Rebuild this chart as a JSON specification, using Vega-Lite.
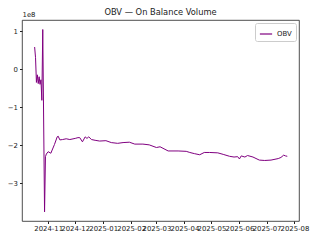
{
  "$schema": "https://vega.github.io/schema/vega-lite/v6.json",
  "width": 277,
  "height": 201,
  "autosize": {"type": "none"},
  "padding": {"left": 22, "top": 20, "right": 21, "bottom": 19},
  "background": "white",
  "title": {"text": "OBV — On Balance Volume", "font": "DejaVu Sans", "fontSize": 8.3, "fontWeight": "normal", "color": "#222", "offset": 4, "dy": 10},
  "config": {
    "view": {"stroke": "#222", "strokeWidth": 0.8},
    "font": "DejaVu Sans"
  },
  "data": {"values": [
    {"date": "2024-10-17", "obv": 58000000},
    {"date": "2024-10-18", "obv": 30000000},
    {"date": "2024-10-19", "obv": -35000000},
    {"date": "2024-10-20", "obv": -15000000},
    {"date": "2024-10-21", "obv": -38000000},
    {"date": "2024-10-22", "obv": -20000000},
    {"date": "2024-10-23", "obv": -40000000},
    {"date": "2024-10-24", "obv": -28000000},
    {"date": "2024-10-25", "obv": -82000000},
    {"date": "2024-10-26", "obv": 104000000},
    {"date": "2024-10-28", "obv": -375000000},
    {"date": "2024-10-29", "obv": -230000000},
    {"date": "2024-10-30", "obv": -223000000},
    {"date": "2024-11-01", "obv": -217000000},
    {"date": "2024-11-04", "obv": -221000000},
    {"date": "2024-11-05", "obv": -215000000},
    {"date": "2024-11-08", "obv": -198000000},
    {"date": "2024-11-11", "obv": -178000000},
    {"date": "2024-11-12", "obv": -176000000},
    {"date": "2024-11-14", "obv": -186000000},
    {"date": "2024-11-17", "obv": -185000000},
    {"date": "2024-11-21", "obv": -183000000},
    {"date": "2024-11-25", "obv": -185000000},
    {"date": "2024-12-01", "obv": -182000000},
    {"date": "2024-12-04", "obv": -180000000},
    {"date": "2024-12-06", "obv": -180000000},
    {"date": "2024-12-09", "obv": -191000000},
    {"date": "2024-12-12", "obv": -178000000},
    {"date": "2024-12-14", "obv": -182000000},
    {"date": "2024-12-16", "obv": -178000000},
    {"date": "2024-12-19", "obv": -185000000},
    {"date": "2024-12-23", "obv": -187000000},
    {"date": "2024-12-28", "obv": -189000000},
    {"date": "2025-01-04", "obv": -188000000},
    {"date": "2025-01-10", "obv": -193000000},
    {"date": "2025-01-17", "obv": -195000000},
    {"date": "2025-01-23", "obv": -193000000},
    {"date": "2025-01-30", "obv": -192000000},
    {"date": "2025-02-05", "obv": -197000000},
    {"date": "2025-02-14", "obv": -197000000},
    {"date": "2025-02-21", "obv": -199000000},
    {"date": "2025-03-01", "obv": -206000000},
    {"date": "2025-03-05", "obv": -204000000},
    {"date": "2025-03-14", "obv": -215000000},
    {"date": "2025-03-25", "obv": -215000000},
    {"date": "2025-04-03", "obv": -216000000},
    {"date": "2025-04-07", "obv": -219000000},
    {"date": "2025-04-12", "obv": -222000000},
    {"date": "2025-04-18", "obv": -225000000},
    {"date": "2025-04-23", "obv": -219000000},
    {"date": "2025-04-29", "obv": -219000000},
    {"date": "2025-05-08", "obv": -220000000},
    {"date": "2025-05-14", "obv": -224000000},
    {"date": "2025-05-21", "obv": -229000000},
    {"date": "2025-05-26", "obv": -231000000},
    {"date": "2025-05-30", "obv": -230000000},
    {"date": "2025-06-01", "obv": -236000000},
    {"date": "2025-06-03", "obv": -228000000},
    {"date": "2025-06-07", "obv": -231000000},
    {"date": "2025-06-10", "obv": -227000000},
    {"date": "2025-06-16", "obv": -231000000},
    {"date": "2025-06-23", "obv": -239000000},
    {"date": "2025-06-29", "obv": -240000000},
    {"date": "2025-07-06", "obv": -239000000},
    {"date": "2025-07-14", "obv": -235000000},
    {"date": "2025-07-17", "obv": -232000000},
    {"date": "2025-07-20", "obv": -226000000},
    {"date": "2025-07-22", "obv": -228000000},
    {"date": "2025-07-24", "obv": -229000000}
  ]},
  "mark": {"type": "line", "strokeWidth": 1, "clip": true},
  "encoding": {
    "x": {
      "field": "date", "type": "temporal", "title": null,
      "scale": {"domain": ["2024-10-03", "2025-08-06"]},
      "axis": {
        "values": [
          {"year": 2024, "month": 11, "date": 1},
          {"year": 2024, "month": 12, "date": 1},
          {"year": 2025, "month": 1, "date": 1},
          {"year": 2025, "month": 2, "date": 1},
          {"year": 2025, "month": 3, "date": 1},
          {"year": 2025, "month": 4, "date": 1},
          {"year": 2025, "month": 5, "date": 1},
          {"year": 2025, "month": 6, "date": 1},
          {"year": 2025, "month": 7, "date": 1},
          {"year": 2025, "month": 8, "date": 1}
        ],
        "format": "%Y-%m", "grid": false, "domain": false,
        "labelOverlap": false, "labelBound": false, "labelFlush": false,
        "labelFontSize": 6.9, "labelColor": "#222", "labelPadding": 2,
        "tickSize": 2.5, "tickColor": "#222"
      }
    },
    "y": {
      "field": "obv", "type": "quantitative",
      "scale": {"domain": [-399000000, 129000000], "nice": false, "zero": false},
      "axis": {
        "values": [-300000000, -200000000, -100000000, 0, 100000000],
        "labelExpr": "format(datum.value / 1e8, 'd')",
        "grid": false, "domain": false,
        "labelFontSize": 6.9, "labelColor": "#222", "labelPadding": 2,
        "tickSize": 2.5, "tickColor": "#222",
        "title": "1e8", "titleAngle": 0, "titleAlign": "left", "titleBaseline": "bottom",
        "titleX": 0, "titleY": -3, "titleFontSize": 6.9, "titleFontWeight": "normal", "titleColor": "#222"
      }
    },
    "color": {
      "datum": "OBV", "type": "nominal",
      "scale": {"range": ["#800080"]},
      "legend": {
        "title": null, "orient": "top-right", "offset": 3,
        "symbolType": "stroke", "symbolStrokeWidth": 1.2, "symbolSize": 150,
        "labelFontSize": 6.9, "labelColor": "#222",
        "strokeColor": "#ccc", "fillColor": "white", "padding": 4, "cornerRadius": 2
      }
    }
  }
}
